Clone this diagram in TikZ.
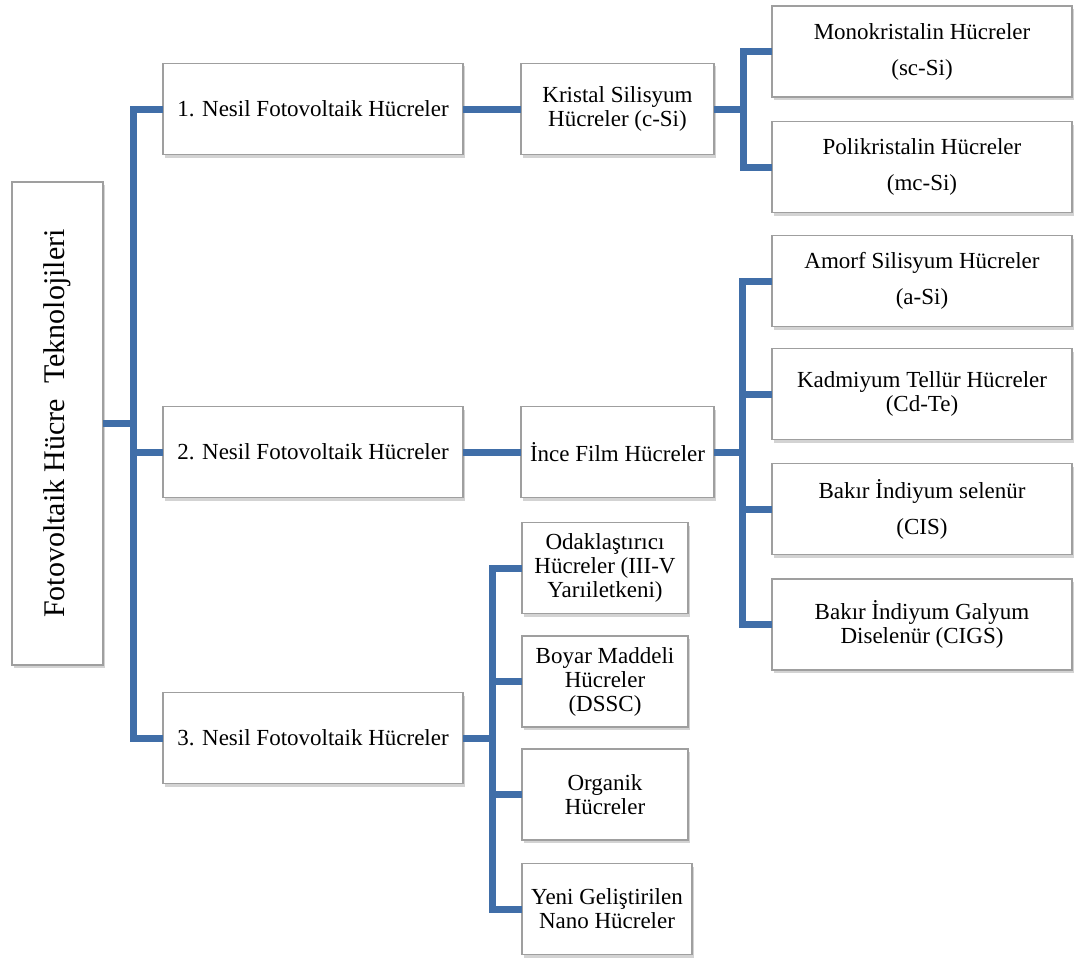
\documentclass[tikz,border=0pt]{standalone}
\usepackage{fontspec}
\setmainfont{Liberation Serif}
\usetikzlibrary{shadows}
\definecolor{linkblue}{RGB}{64,110,168}
\tikzstyle{cell} = [rectangle, draw=gray!75, line width=0.8pt, fill=white, align=center, inner sep=2pt, outer sep=0pt, font=\fontsize{11.5}{12}\selectfont, drop shadow={shadow xshift=1.2pt, shadow yshift=-1.5pt, opacity=0.35}]
\tikzstyle{gen} = [cell, minimum width=150pt, minimum height=45.5pt]
\tikzstyle{group} = [cell, minimum width=96.5pt, minimum height=45.5pt]
\tikzstyle{leaf} = [cell, minimum width=150pt, minimum height=45.5pt]
\tikzstyle{loose} = [font=\fontsize{11.5}{18}\selectfont]
\tikzstyle{small} = [cell, minimum width=83pt, minimum height=45.5pt]
\tikzstyle{link} = [line width=3.5pt, draw=linkblue]

\begin{document}
\begin{tikzpicture}[x=0.5pt, y=-0.5pt]
\useasboundingbox (0,0) rectangle (1074,963);

% root
\node (root) [cell, minimum width=45.5pt, minimum height=241.5pt, font=\fontsize{15}{16}\selectfont] at (57.5,423.5) {\rotatebox{90}{Fotovoltaik Hücre~ Teknolojileri}};

% generations
\node (gen1) [gen] at (313,109) {1. Nesil Fotovoltaik Hücreler};
\node (gen2) [gen] at (313,452) {2. Nesil Fotovoltaik Hücreler};
\node (gen3) [gen] at (313,738) {3. Nesil Fotovoltaik Hücreler};

% groups
\node (kristal) [group] at (617.5,109) {Kristal Silisyum\\Hücreler (c-Si)};
\node (ince) [group] at (617.5,452) {İnce Film Hücreler};

% 1st generation cells
\node (mono) [leaf, loose] at (922,51.5) {Monokristalin Hücreler\\(sc-Si)};
\node (poli) [leaf, loose] at (922,167) {Polikristalin Hücreler\\(mc-Si)};

% 2nd generation cells
\node (amorf) [leaf, loose] at (922,281) {Amorf Silisyum Hücreler\\(a-Si)};
\node (kadm) [leaf] at (922,394) {Kadmiyum Tellür Hücreler\\(Cd-Te)};
\node (cis) [leaf, loose] at (922,509) {Bakır İndiyum selenür\\(CIS)};
\node (cigs) [leaf] at (922,624.5) {Bakır İndiyum Galyum\\Diselenür (CIGS)};

% 3rd generation cells
\node (odak) [small] at (605,568) {Odaklaştırıcı\\Hücreler (III-V\\Yarıiletkeni)};
\node (boyar) [small] at (605,681.5) {Boyar Maddeli\\Hücreler\\(DSSC)};
\node (organik) [small] at (605,794.5) {Organik\\Hücreler};
\node (yeni) [small, minimum width=85pt] at (607,909) {Yeni Geliştirilen\\Nano Hücreler};

% joints
\coordinate (rootjoint) at (133,423.5);
\coordinate (kjoint) at (743,109);
\coordinate (ijoint) at (742,452);
\coordinate (gjoint) at (492,738);

\draw [link] (root.east) -- (rootjoint);
\draw [link] (gen1.west) -| (rootjoint);
\draw [link] (gen2.west) -| (rootjoint);
\draw [link] (gen3.west) -| (rootjoint);

\draw [link] (gen1) -- (kristal);
\draw [link] (gen2) -- (ince);

\draw [link] (kristal.east) -- (kjoint);
\draw [link] (mono.west) -| (kjoint);
\draw [link] (poli.west) -| (kjoint);

\draw [link] (ince.east) -- (ijoint);
\draw [link] (amorf.west) -| (ijoint);
\draw [link] (kadm.west) -| (ijoint);
\draw [link] (cis.west) -| (ijoint);
\draw [link] (cigs.west) -| (ijoint);

\draw [link] (gen3.east) -- (gjoint);
\draw [link] (odak.west) -| (gjoint);
\draw [link] (boyar.west) -| (gjoint);
\draw [link] (organik.west) -| (gjoint);
\draw [link] (yeni.west) -| (gjoint);
\end{tikzpicture}
\end{document}
